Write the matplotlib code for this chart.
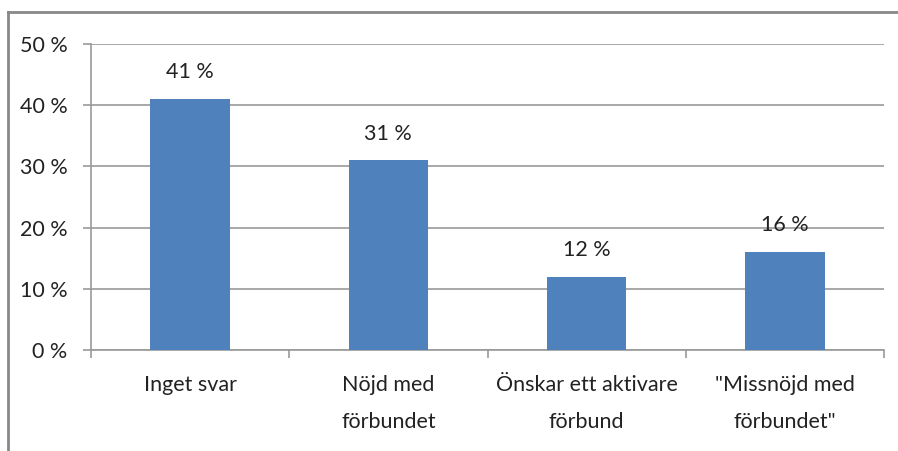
import matplotlib.pyplot as plt
from matplotlib.lines import Line2D

categories = ['Inget svar', 'Nöjd med\nförbundet', 'Önskar ett aktivare\nförbund',
              '"Missnöjd med\nförbundet"']
values = [41, 31, 12, 16]
yticks = [0, 10, 20, 30, 40, 50]

plt.rcParams['font.family'] = ['Lato', 'DejaVu Sans']

W, H = 898, 451
fig = plt.figure(figsize=(W / 100, H / 100), dpi=100)
ax = fig.add_axes([91 / W, 1 - 350 / H, (884 - 91) / W, (350 - 44) / H])

x = range(len(categories))
ax.bar(x, values, width=0.40, color='#4F81BD', zorder=3)
for xi, v in zip(x, values):
    ax.annotate(f'{v} %', (xi, v), xytext=(0, 12), textcoords='offset points',
                ha='center', va='bottom', fontsize=15.5, color='#222222')

ax.set_xlim(-0.5, len(categories) - 0.5)
ax.set_ylim(0, 50)
ax.set_yticks(yticks)
ax.set_yticklabels([f'{t} %' for t in yticks], fontsize=15.5, color='#222222')
ax.yaxis.grid(True, color='#999999', linewidth=1.2, zorder=0)
ax.tick_params(axis='y', length=6, color='#999999', pad=11, width=1.2)

ax.set_xticks([i - 0.5 for i in range(len(categories) + 1)], minor=False)
ax.set_xticklabels([])
ax.set_xticks(list(x), minor=True)
ax.set_xticklabels(categories, minor=True, fontsize=15.5, color='#222222', linespacing=2.05)
ax.tick_params(axis='x', which='major', length=6, color='#999999', width=1.2)
ax.tick_params(axis='x', which='minor', length=0, pad=18)

for s in ['top', 'right']:
    ax.spines[s].set_visible(False)
for s in ['left', 'bottom']:
    ax.spines[s].set_color('#999999')
    ax.spines[s].set_linewidth(1.2)

# outer chart frame
fig.add_artist(Line2D([8 / W, 8 / W], [0, 1 - 12 / H], color='#888888', linewidth=2,
                      transform=fig.transFigure))
fig.add_artist(Line2D([8 / W, 1], [1 - 12 / H, 1 - 12 / H], color='#888888', linewidth=2,
                      transform=fig.transFigure))

fig.savefig('out.png', dpi=100)
